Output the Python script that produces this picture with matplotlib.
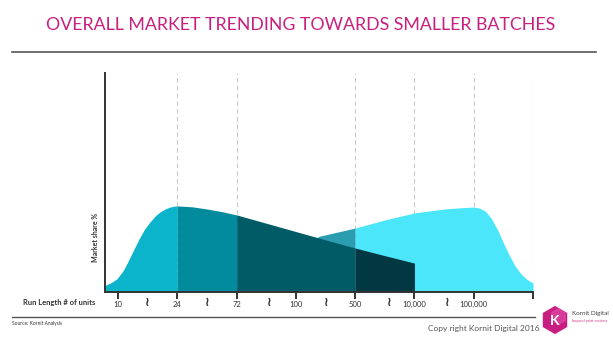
import matplotlib
matplotlib.use("Agg")
import matplotlib.pyplot as plt
from matplotlib.patches import RegularPolygon
from matplotlib.lines import Line2D
from matplotlib.transforms import blended_transform_factory
import numpy as np

# ---------------- data ----------------
tick_labels = ["10", "24", "72", "100", "500", "10,000", "100,000"]
tick_pos = [0, 1, 2, 3, 4, 5, 6]
squiggle_pos = [0.5, 1.5, 2.55, 3.52, 4.57, 5.55]
dashed_pos = [1, 2, 4, 5, 6, 7]

# small-batch curve (left)
left_x = [-0.22, -0.12, -0.02, 0.08, 0.16, 0.25, 0.35, 0.45, 0.54, 0.63, 0.71, 0.8, 0.88, 0.95, 1.0,
          1.25, 1.5, 1.75, 2.0, 2.5, 3.0, 3.5, 4.0, 4.5, 5.0]
left_y = [3.0, 4.2, 6.0, 9.5, 13.5, 18.5, 24.0, 28.8, 32.0, 34.8, 36.6, 38.0, 38.8, 39.2, 39.3,
          38.9, 37.9, 36.7, 35.2, 31.4, 27.6, 23.8, 20.1, 16.6, 13.2]
left_bounds = [(-0.22, 1.0), (1.0, 2.0), (2.0, 4.0), (4.0, 5.0)]
left_colors = ["#0cb4cb", "#028b9c", "#015b67", "#013841"]

# large-batch curve (right)
right_x = [3.0, 3.4, 4.0, 4.5, 5.0, 5.5, 5.8, 6.0, 6.1, 6.2, 6.3, 6.4, 6.5, 6.6, 6.7, 6.8, 6.9, 7.0]
right_y = [20.0, 25.5, 29.2, 32.9, 36.1, 37.9, 38.5, 38.8, 38.3, 36.8, 33.5, 28.5, 22.5, 16.8, 11.8, 8.2, 5.7, 4.1]
right_bounds = [(3.0, 4.0), (4.0, 7.0)]
right_colors = ["#2a9db0", "#4ce6fb"]

W, H = 613, 341
fig = plt.figure(figsize=(W / 100, H / 100), dpi=100)
fig.patch.set_facecolor("white")

def fx(px):
    return px / W

def fy(py):
    return 1 - py / H

# ---------------- chart axes ----------------
ax = fig.add_axes([fx(105), fy(292), (533 - 105) / W, (292 - 73) / H])
ax.set_xlim(-0.22, 7.0)
ax.set_ylim(0, 100)
ax.set_facecolor("none")

for xp in dashed_pos:
    ax.axvline(xp, color="#c9c9c9", lw=0.8, ls=(0, (4, 3)), zorder=1)

rx = np.array(right_x); ry = np.array(right_y)
for (a, b), c in zip(right_bounds, right_colors):
    m = (rx >= a) & (rx <= b)
    ax.fill_between(rx, 0, ry, where=m, color=c, lw=0, zorder=2)
lx = np.array(left_x); ly = np.array(left_y)
for (a, b), c in zip(left_bounds, left_colors):
    m = (lx >= a) & (lx <= b)
    ax.fill_between(lx, 0, ly, where=m, color=c, lw=0, zorder=3)

for s in ["top", "right"]:
    ax.spines[s].set_visible(False)
for s in ["left", "bottom"]:
    ax.spines[s].set_color("#333333")
    ax.spines[s].set_linewidth(1.4)
    ax.spines[s].set_zorder(5)

ax.set_yticks([])
ax.set_xticks(tick_pos + [7])
ax.set_xticklabels(tick_labels + [""], fontsize=5.5, color="#333333", family="Lato")
ax.tick_params(axis="x", direction="out", length=5, width=1.4, color="#333333", pad=1.5)
sq_tr = blended_transform_factory(ax.transData, fig.transFigure)
for xp in squiggle_pos:
    ax.text(xp, fy(303), "\u2240", ha="center", va="center", fontsize=9, fontweight="bold",
            color="#333333", family="DejaVu Sans", transform=sq_tr, clip_on=False)

fig.text(fx(95), fy(237), "Market share %", rotation=90, ha="center", va="center",
         fontsize=5, fontweight="bold", family="Lato", color="#333333")

# ---------------- header / footer ----------------
fig.text(fx(301), fy(25), "OVERALL MARKET TRENDING TOWARDS SMALLER BATCHES",
         ha="center", va="center", fontsize=12.8, color="#c8207f", family="Lato")
fig.add_artist(Line2D([fx(12), fx(596)], [fy(52), fy(52)], color="#555555", lw=1.2))
fig.add_artist(Line2D([fx(12), fx(535)], [fy(317), fy(317)], color="#555555", lw=1.0))

fig.text(fx(95), fy(302), "Run Length # of units", ha="right", va="center",
         fontsize=5.5, fontweight="bold", color="#333333", family="Lato")
fig.text(fx(12), fy(324), "Source: Kornit Analysis", ha="left", va="center",
         fontsize=3.5, color="#333333", family="Lato")
fig.text(fx(540), fy(328), "Copy right Kornit Digital 2016", ha="right", va="center",
         fontsize=6, color="#555555", family="Lato")

# logo
lax = fig.add_axes([fx(541), fy(334), 28 / W, 28 / H])
lax.set_xlim(-1, 1); lax.set_ylim(-1, 1); lax.set_aspect("equal"); lax.axis("off")
lax.add_patch(RegularPolygon((0, 0), 6, radius=0.95, color="#c81e82"))
lax.add_patch(RegularPolygon((0.25, 0.25), 6, radius=0.55, color="#e04aa6", alpha=0.7))
lax.text(0, -0.05, "K", ha="center", va="center", fontsize=10, fontweight="bold",
         color="white", family="Lato")
fig.text(fx(572), fy(314), "Kornit Digital", ha="left", va="center", fontsize=4.5,
         color="#444444", family="Lato")
fig.text(fx(572), fy(321), "beyond print matters", ha="left", va="center", fontsize=2.8,
         color="#d0408f", family="Lato")

fig.savefig("out.png", dpi=100, facecolor="white")
